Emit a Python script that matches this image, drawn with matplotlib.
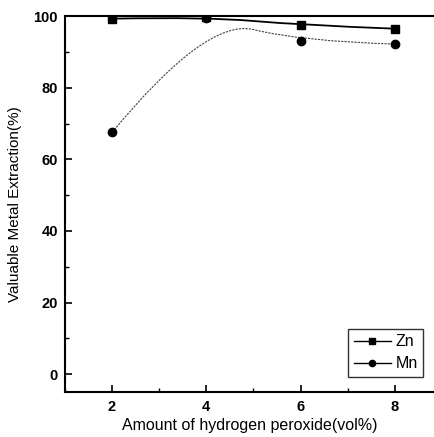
import matplotlib
matplotlib.use('Agg')
import matplotlib.pyplot as plt
from matplotlib.path import Path
from matplotlib.patches import PathPatch
from matplotlib.lines import Line2D
from matplotlib.ticker import MultipleLocator

plt.rcParams['font.family'] = ['Liberation Sans', 'DejaVu Sans']

# Data.
h2o2 = [2, 4, 6, 8]
zn = [99.3, 99.8, 97.5, 96.5]
mn = [67.5, 99.5, 93.0, 92.2]


def bspline_path(x, y):
    '''
    Quadratic B-spline with the data as control points (Origin style).
    '''
    pts = list(zip(x, y))
    verts = [pts[0]]
    codes = [Path.MOVETO]
    for i in range(1, len(pts) - 1):
        verts.append(pts[i])
        if i < len(pts) - 2:
            nxt = pts[i + 1]
            verts.append(((pts[i][0] + nxt[0]) / 2, (pts[i][1] + nxt[1]) / 2))
        else:
            verts.append(pts[-1])
        codes += [Path.CURVE3, Path.CURVE3]
    return Path(verts, codes)


fig = plt.figure(figsize=(4.35, 4.37), dpi=100)
ax = fig.add_axes([0.149, 0.103, 0.851, 0.860])

# Smoothed connecting lines.
ax.add_patch(PathPatch(bspline_path(h2o2, zn), fill=False, color='black', lw=1.3))
ax.add_patch(PathPatch(bspline_path(h2o2, mn), fill=False, color='#444444', lw=0.8, ls=(0, (2, 1))))

# Markers.
ax.plot(h2o2, zn, ls='none', marker='s', ms=6, color='black')
ax.plot(h2o2, mn, ls='none', marker='o', ms=6, color='black')

ax.set_xlim(1, 8.85)
ax.set_ylim(-5, 100)
ax.xaxis.set_major_locator(MultipleLocator(2))
ax.xaxis.set_minor_locator(MultipleLocator(1))
ax.yaxis.set_major_locator(MultipleLocator(20))
ax.yaxis.set_minor_locator(MultipleLocator(10))

ax.spines['right'].set_visible(False)
for s in ['left', 'bottom', 'top']:
    ax.spines[s].set_linewidth(1.5)

ax.tick_params(axis='x', which='major', direction='in', length=5, width=1.2, labelsize=10.5, pad=6)
ax.tick_params(axis='x', which='minor', direction='in', length=3, width=1)
ax.tick_params(axis='y', which='major', direction='in', length=5, width=1.2, labelsize=10.5, pad=5)
ax.tick_params(axis='y', which='minor', direction='in', length=3, width=1)
for lab in ax.get_xticklabels() + ax.get_yticklabels():
    lab.set_fontweight('bold')

ax.set_xlabel('Amount of hydrogen peroxide(vol%)', fontsize=11.5, labelpad=3)
ax.set_ylabel('Valuable Metal Extraction(%)', fontsize=11, labelpad=8)

handles = [
    Line2D([], [], color='black', lw=1, marker='s', ms=4.5),
    Line2D([], [], color='black', lw=1, marker='o', ms=4.5),
]
leg = ax.legend(handles, ['Zn', 'Mn'], loc='lower right', bbox_to_anchor=(0.968, 0.04),
                fontsize=11.5, frameon=True, fancybox=False, handlelength=2.3,
                handletextpad=0.3, borderpad=0.35, labelspacing=0.45, borderaxespad=0)
leg.get_frame().set_edgecolor('black')
leg.get_frame().set_linewidth(1)

fig.savefig('out.png', dpi=100)
